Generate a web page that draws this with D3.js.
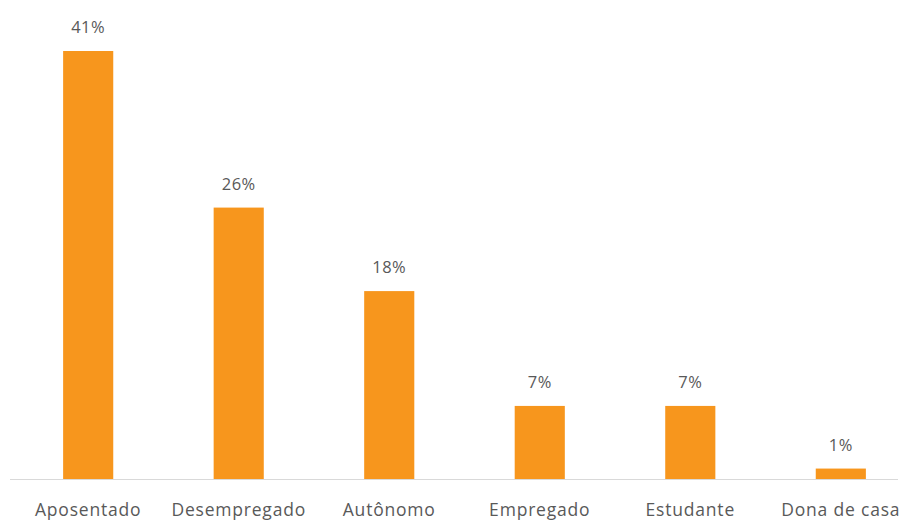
<!DOCTYPE html>
<html><head><meta charset="utf-8">
<script src="https://cdn.jsdelivr.net/npm/d3@7"></script>
<style>body{margin:0;background:#fff}svg{display:block}</style>
</head><body>
<svg id="c" width="908" height="523"></svg>
<script>
const categories = ["Aposentado","Desempregado","Autônomo","Empregado","Estudante","Dona de casa"];
const values = [41,26,18,7,7,1];
const labels = ["41%","26%","18%","7%","7%","1%"];

const svg = d3.select("#c");
const x = d3.scaleBand().domain(categories).range([13,916]).paddingInner(0.667).paddingOuter(0.333);
const y = d3.scaleLinear().domain([0,41]).range([479,51]);
const font = "'Open Sans', 'Liberation Sans', sans-serif";

svg.append("line").attr("x1",10).attr("x2",898).attr("y1",y(0)+0.5).attr("y2",y(0)+0.5)
  .attr("stroke","#d9d9d9").attr("stroke-width",1);

svg.selectAll("rect.bar").data(values).enter().append("rect").attr("class","bar")
  .attr("x",(d,i)=>x(categories[i])).attr("width",x.bandwidth())
  .attr("y",d=>y(d)).attr("height",d=>y(0)-y(d)).attr("fill","#F7961D");

svg.selectAll("text.val").data(values).enter().append("text").attr("class","val")
  .attr("x",(d,i)=>x(categories[i])+x.bandwidth()/2).attr("y",d=>y(d)-18)
  .attr("text-anchor","middle").attr("font-family",font).attr("font-size",16.5)
  .attr("letter-spacing",0.5)
  .attr("fill","#595959").text((d,i)=>labels[i]);

svg.selectAll("text.cat").data(categories).enter().append("text").attr("class","cat")
  .attr("x",d=>x(d)+x.bandwidth()/2).attr("y",516)
  .attr("text-anchor","middle").attr("font-family",font).attr("font-size",17.5)
  .attr("letter-spacing",0.8)
  .attr("fill","#595959").text(d=>d);
</script>
</body></html>
